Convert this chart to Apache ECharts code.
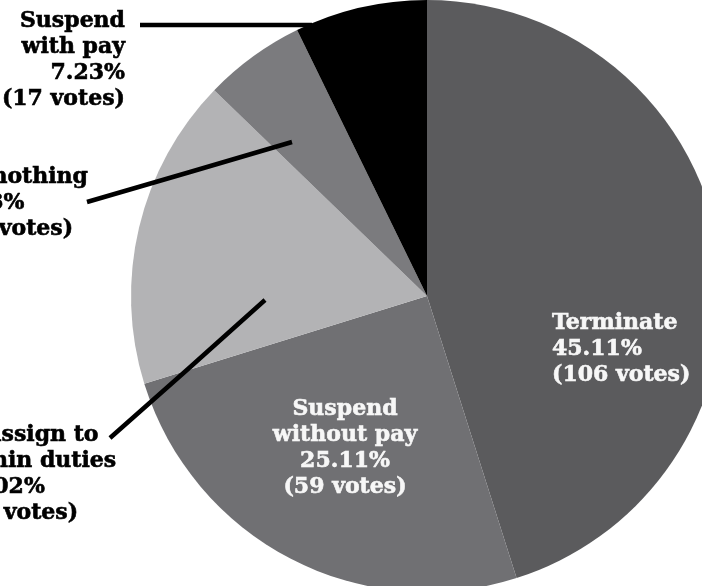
<!DOCTYPE html>
<html>
<head>
<meta charset="utf-8">
<script src="https://cdn.jsdelivr.net/npm/echarts@6/dist/echarts.min.js"></script>
<style>
  html, body { margin: 0; padding: 0; background: #fff; }
  #chart { width: 702px; height: 586px; }
</style>
</head>
<body>
<div id="chart"></div>
<script>
// Poll responses, clockwise from 12 o'clock
const categories = ['Terminate', 'Suspend\nwithout pay', 'Reassign to\nadmin duties', 'Do nothing', 'Suspend\nwith pay'];
const votes = [106, 59, 40, 13, 17];
const sliceColors = ['#5b5b5d', '#707073', '#b3b3b5', '#7b7b7e', '#000000'];

// Label placement per slice: anchor, alignment and leader line (null = label sits inside slice)
const labelPlacement = [
  { x: 552, y: 310, align: 'left', line: null },
  { x: 345, y: 396, align: 'center', line: null },
  { x: -45, y: 422, align: 'left', line: [[265, 300], [188, 369], [110, 438]] },
  { x: -50, y: 164, align: 'left', line: [[292, 142], [190, 172], [87, 202]] },
  { x: 125, y: 8, align: 'right', line: [[312, 25], [226, 25], [140, 25]] }
];

const PIE_CENTER = [427, 296];
const PIE_RADIUS = 296;

const chart = echarts.init(document.getElementById('chart'), null, { renderer: 'canvas' });

// Filled slices
const sliceData = categories.map((name, i) => ({
  name: name,
  value: votes[i],
  itemStyle: { color: sliceColors[i] }
}));

// Same values again, drawn above the slices, carrying the labels and leader lines
const labelData = categories.map((name, i) => {
  const textColor = labelPlacement[i].line ? '#000000' : '#f7f7f7';
  return {
    name: name,
    value: votes[i],
    label: {
      color: textColor,
      textBorderColor: textColor,
      textBorderWidth: 0.6,
      align: labelPlacement[i].align
    },
    labelLine: {
      show: !!labelPlacement[i].line,
      lineStyle: { color: '#000', width: 4.5, cap: 'butt' }
    }
  };
});

chart.setOption({
  animation: false,
  backgroundColor: '#fff',
  series: [{
    type: 'pie',
    z: 2,
    center: PIE_CENTER,
    radius: PIE_RADIUS,
    startAngle: 90,
    clockwise: true,
    silent: true,
    data: sliceData,
    itemStyle: { borderWidth: 0 },
    label: { show: false },
    labelLine: { show: false }
  }, {
    type: 'pie',
    z: 3,
    center: PIE_CENTER,
    radius: PIE_RADIUS,
    startAngle: 90,
    clockwise: true,
    silent: true,
    avoidLabelOverlap: false,
    data: labelData,
    itemStyle: { color: 'rgba(0,0,0,0)', borderWidth: 0 },
    label: {
      show: true,
      position: 'outside',
      fontFamily: 'DejaVu Serif',
      fontWeight: 'bold',
      fontSize: 22,
      lineHeight: 26,
      formatter: p => `${p.name}\n${p.percent.toFixed(2)}%\n(${p.value} votes)`
    },
    labelLayout: function (params) {
      const pl = labelPlacement[params.dataIndex];
      const out = { x: pl.x, y: pl.y, align: pl.align, verticalAlign: 'top' };
      if (pl.line) out.labelLinePoints = pl.line;
      return out;
    }
  }]
});
</script>
</body>
</html>
